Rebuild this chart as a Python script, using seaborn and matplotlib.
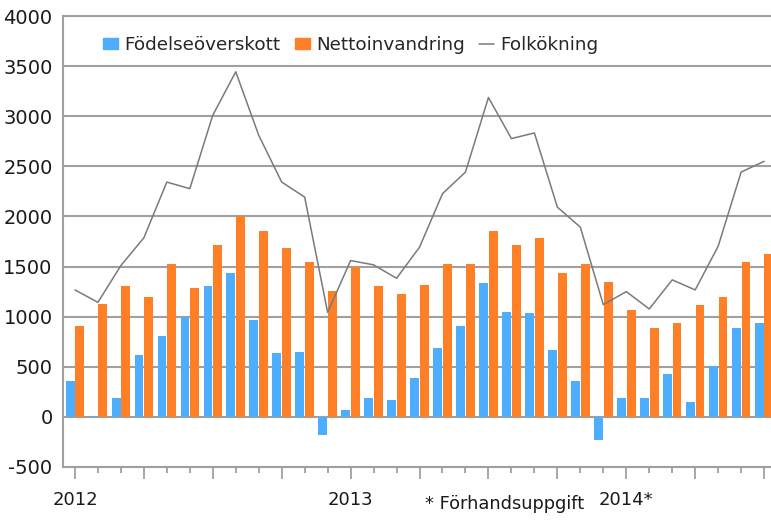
import numpy as np
import pandas as pd
import matplotlib.pyplot as plt
from matplotlib.patches import Patch
from matplotlib.lines import Line2D
import seaborn as sns

# Monthly data, Jan 2012 - Jul 2014
months = [str(p) for p in pd.period_range("2012-01", "2014-07", freq="M")]

fodelseoverskott = [360, 5, 187, 617, 810, 993, 1303, 1433, 970, 633, 650, -183,
                    70, 187, 170, 393, 683, 903, 1337, 1050, 1033, 667, 360, -230,
                    187, 187, 427, 150, 503, 887, 937]
nettoinvandring = [903, 1127, 1303, 1193, 1527, 1287, 1717, 2003, 1850, 1687, 1543, 1260,
                   1493, 1303, 1227, 1320, 1527, 1527, 1850, 1717, 1783, 1433, 1527, 1350,
                   1067, 887, 937, 1117, 1193, 1543, 1627]
folkokning = [1267, 1143, 1510, 1787, 2343, 2277, 3010, 3443, 2810, 2343, 2193, 1043,
              1560, 1517, 1383, 1693, 2227, 2443, 3187, 2777, 2833, 2093, 1893, 1120,
              1250, 1077, 1367, 1267, 1703, 2443, 2550]

year_labels = {0: "2012", 12: "2013", 24: "2014*"}
series_names = ["Födelseöverskott", "Nettoinvandring", "Folkökning"]

blue = "#4daeff"
orange = "#ff7f27"
line_gray = "#7a7a7a"
grid_gray = "#a0a0a0"

df = pd.DataFrame({
    "month": months * 2,
    "serie": [series_names[0]] * len(months) + [series_names[1]] * len(months),
    "value": fodelseoverskott + nettoinvandring,
})

sns.set_style("white")
plt.rcParams["font.family"] = ["DejaVu Sans"]

fig = plt.figure(figsize=(7.71, 5.22), dpi=100)
ax = fig.add_axes([63 / 771, 55 / 522, 708 / 771, 451 / 522])

sns.barplot(data=df, x="month", y="value", hue="serie", order=months,
            hue_order=series_names[:2], palette=[blue, orange], saturation=1,
            width=0.84, gap=0.08, linewidth=0, legend=False, ax=ax)
sns.lineplot(x=np.arange(len(months)), y=folkokning, color=line_gray, lw=1.1, ax=ax)

# axes look
ax.set_ylim(-500, 4000)
ax.set_xlim(-0.52, 30.3)
ax.set_yticks(range(-500, 4001, 500))
ax.set_yticklabels([str(v) for v in range(-500, 4001, 500)])
ax.yaxis.grid(True, color=grid_gray, lw=1.5)
ax.set_axisbelow(True)
ax.set_xlabel("")
ax.set_ylabel("")

major = list(range(0, len(months), 3))
ax.set_xticks(major)
ax.set_xticklabels([year_labels.get(i, "") for i in major])
ax.set_xticks(range(len(months)), minor=True)
ax.tick_params(axis="x", which="major", length=8.5, width=1.3, color=grid_gray,
               pad=9, labelsize=13, labelcolor="#1a1a1a", bottom=True)
ax.tick_params(axis="x", which="minor", length=4.5, width=1.3, color=grid_gray, bottom=True)
ax.tick_params(axis="y", length=0, pad=7.5, labelsize=14, labelcolor="#1a1a1a")

for side in ["left", "top", "bottom"]:
    ax.spines[side].set_color(grid_gray)
    ax.spines[side].set_linewidth(1.5)
ax.spines["right"].set_visible(False)

handles = [Patch(color=blue), Patch(color=orange), Line2D([], [], color=line_gray, lw=1.1)]
ax.legend(handles, series_names, loc="center left", bbox_to_anchor=(103 / 771, 1 - 45 / 522),
          bbox_transform=fig.transFigure, ncol=3, frameon=False, fontsize=13.2,
          handlelength=0.8, handleheight=0.6, handletextpad=0.35, columnspacing=0.8,
          borderpad=0, borderaxespad=0)

fig.text(425 / 771, 1 - 509 / 522, "* Förhandsuppgift", fontsize=12.8,
         color="#1a1a1a", va="baseline", ha="left")

fig.savefig("out.png", dpi=100)
